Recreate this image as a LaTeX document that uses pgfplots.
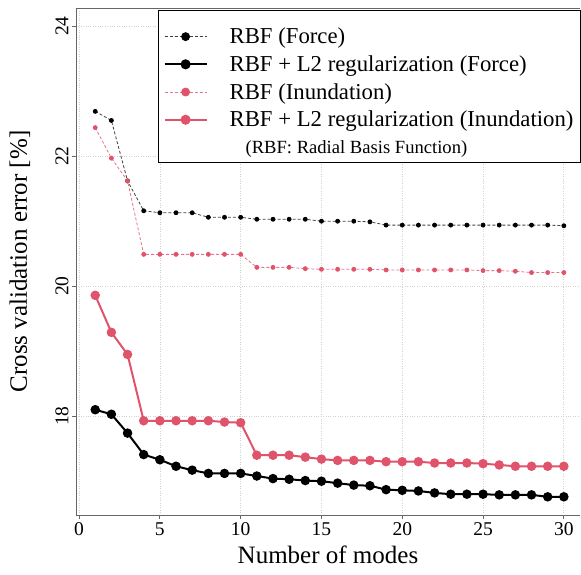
\documentclass[border=0pt]{standalone}
\usepackage{fontspec}
\setmainfont{Liberation Serif}
\usepackage{pgfplots}
\pgfplotsset{compat=1.18}
\definecolor{rred}{HTML}{DF536B}
\begin{document}
\begin{tikzpicture}
\begin{axis}[
	scale only axis, width=504pt, height=507pt,
	xmin=-0.19, xmax=31.0, ymin=16.48, ymax=24.28,
	xtick={0,5,...,30}, ytick={18,20,22,24},
	xticklabels={0,5,10,15,20,25,30}, yticklabels={18,20,22,24},
	axis x line*=box, axis y line*=left,
	xtick pos=lower, ytick pos=left,
	axis line style={black!60, line width=0.8pt},
	tick align=outside, major tick length=4pt,
	tick style={black!60, line width=0.8pt},
	grid=major, major grid style={dotted, black!18, line width=0.7pt},
	ticklabel style={font=\fontsize{19.5}{20}\selectfont},
	yticklabel style={rotate=90, anchor=south},
	xlabel={Number of modes}, ylabel={Cross validation error [\%]},
	every axis x label/.style={at={(axis description cs:0.5,0)}, anchor=center, yshift=-40pt,
		font=\fontsize{25}{28}\selectfont},
	every axis y label/.style={at={(axis description cs:0,0.5)}, anchor=center, xshift=-56pt, rotate=90,
		font=\fontsize{25}{28}\selectfont},
	legend cell align=left,
	legend style={at={(axis description cs:0.1627,0.996)}, anchor=north west,
		draw=black, line width=1.2pt, fill=white,
		font=\fontsize{22.75}{24}\selectfont,
		inner xsep=5pt, inner ysep=4pt, column sep=20pt, row sep=1.7pt,
		cells={anchor=base west},
		nodes={inner sep=2pt, text height=18pt, text depth=4pt}},
	legend image code/.code={\draw[mark repeat=2,mark phase=2] plot coordinates {(0pt,7pt) (21pt,7pt) (42pt,7pt)};},
	legend image post style={mark size=4pt},
]
% RBF (Force)
\addplot[color=black!75, line width=0.8pt, dash pattern=on 3pt off 2pt, mark=*, mark size=2pt,
	mark options={solid, fill=black, draw=black}] coordinates {
	(1,22.69) (2,22.55) (3,21.62) (4,21.16) (5,21.13) (6,21.13) (7,21.13) (8,21.06)
	(9,21.06) (10,21.06) (11,21.03) (12,21.03) (13,21.03) (14,21.03) (15,21.00)
	(16,21.00) (17,21.00) (18,20.99) (19,20.94) (20,20.94) (21,20.94) (22,20.94)
	(23,20.94) (24,20.94) (25,20.94) (26,20.94) (27,20.94) (28,20.94) (29,20.94) (30,20.93)
};
\addlegendentry[text height=27pt]{RBF (Force)}
% RBF + L2 (Force)
\addplot[color=black, line width=2pt, mark=*, mark size=3.7pt, mark options={solid, fill=black}] coordinates {
	(1,18.10) (2,18.03) (3,17.74) (4,17.41) (5,17.33) (6,17.23) (7,17.17) (8,17.12)
	(9,17.12) (10,17.12) (11,17.08) (12,17.04) (13,17.03) (14,17.01) (15,17.00)
	(16,16.97) (17,16.94) (18,16.93) (19,16.87) (20,16.86) (21,16.85) (22,16.82)
	(23,16.80) (24,16.80) (25,16.80) (26,16.79) (27,16.79) (28,16.79) (29,16.76) (30,16.76)
};
\addlegendentry{RBF + L2 regularization (Force)}
% RBF (Inundation)
\addplot[color=rred!80, line width=0.8pt, dash pattern=on 3pt off 2pt, mark=*, mark size=2pt,
	mark options={solid, fill=rred, draw=rred}] coordinates {
	(1,22.44) (2,21.97) (3,21.62) (4,20.49) (5,20.49) (6,20.49) (7,20.49) (8,20.49)
	(9,20.49) (10,20.49) (11,20.29) (12,20.29) (13,20.29) (14,20.27) (15,20.26)
	(16,20.26) (17,20.26) (18,20.26) (19,20.25) (20,20.25) (21,20.25) (22,20.25)
	(23,20.25) (24,20.25) (25,20.24) (26,20.24) (27,20.23) (28,20.21) (29,20.21) (30,20.21)
};
\addlegendentry{RBF (Inundation)}
% RBF + L2 (Inundation)
\addplot[color=rred, line width=2pt, mark=*, mark size=3.7pt, mark options={solid, fill=rred}] coordinates {
	(1,19.86) (2,19.29) (3,18.95) (4,17.93) (5,17.93) (6,17.93) (7,17.93) (8,17.93)
	(9,17.91) (10,17.90) (11,17.40) (12,17.40) (13,17.40) (14,17.37) (15,17.34)
	(16,17.32) (17,17.32) (18,17.32) (19,17.30) (20,17.30) (21,17.30) (22,17.28)
	(23,17.28) (24,17.28) (25,17.27) (26,17.25) (27,17.23) (28,17.23) (29,17.23) (30,17.23)
};
\addlegendentry{RBF + L2 regularization (Inundation)}
\addlegendimage{empty legend}
\addlegendentry[text height=17.3pt, text depth=3pt]{\fontsize{18.6}{20}\selectfont\hspace{16pt}(RBF: Radial Basis Function)}
\end{axis}
\pgfresetboundingbox
\path[use as bounding box] (-76pt,-59pt) rectangle (505pt,515pt);
\end{tikzpicture}
\end{document}
